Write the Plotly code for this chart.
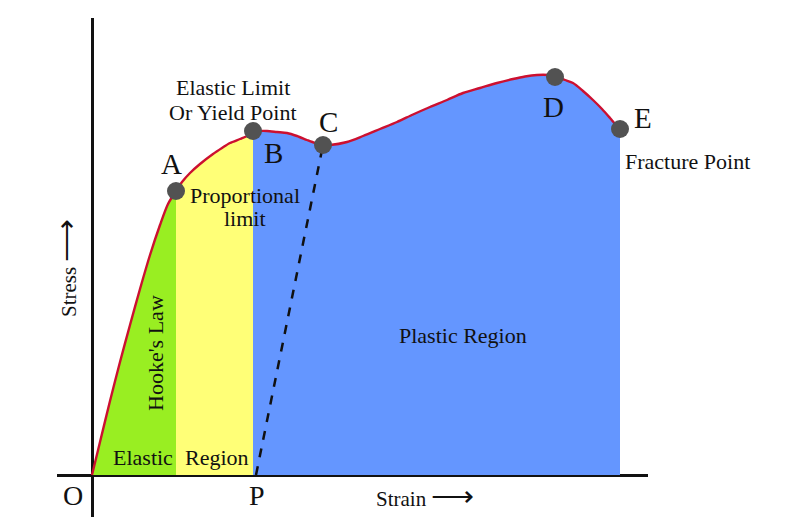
import plotly.graph_objects as go

# Stress-strain curve (strain along x, stress along y; arbitrary diagram units)
strain = [0, 8, 18, 28, 38, 48, 58, 68, 76, 84, 90, 98, 108, 121, 130, 138, 148, 155,
          161, 168, 175, 185, 195, 205, 215, 223, 230, 238, 255, 271, 288, 305, 321, 338, 355,
          371, 388, 405, 421, 433, 445, 456, 465, 473, 481, 491, 501, 510, 518, 524, 528]
stress = [0, 33, 74, 113, 150, 186, 220, 250, 271, 284, 293, 302, 311, 321, 327, 332, 336, 339,
          343, 344, 344, 343, 342, 339, 335, 332, 330, 330, 333, 339, 346, 353, 360.5, 368, 375,
          382, 387, 392, 396, 398.5, 400, 400, 398, 395, 392, 384, 375, 366, 357, 350, 346]

# Key points
point_names = ["A", "B", "C", "D", "E"]
point_strain = [84, 161, 231, 463, 528]
point_stress = [284, 344, 330, 398, 346]

# Unloading line P -> C
unload_strain = [164, 231]
unload_stress = [0, 330]

# Region boundaries (strain)
prop_limit = 84
yield_limit = 161
fracture = 528

SERIF = "Liberation Serif"

def subset(lo, hi):
    xs, ys = [], []
    for x, y in zip(strain, stress):
        if lo <= x <= hi:
            xs.append(x)
            ys.append(y)
    return xs, ys

fig = go.Figure()

for (lo, hi), col in [((0, prop_limit), "#99EE22"),
                      ((prop_limit, yield_limit), "#FFFF77"),
                      ((yield_limit, fracture), "#6496FF")]:
    xs, ys = subset(lo, hi)
    fig.add_trace(go.Scatter(x=xs, y=ys, mode="lines", fill="tozeroy", fillcolor=col,
                             line=dict(width=0, shape="spline", smoothing=0.8),
                             hoverinfo="skip", showlegend=False))

fig.add_trace(go.Scatter(x=strain, y=stress, mode="lines",
                         line=dict(color="#CC1030", width=2.4, shape="spline", smoothing=0.8),
                         showlegend=False))

fig.add_trace(go.Scatter(x=unload_strain, y=unload_stress, mode="lines",
                         line=dict(color="#111111", width=2.5, dash="dash"),
                         showlegend=False))

fig.add_trace(go.Scatter(x=point_strain, y=point_stress, mode="markers",
                         marker=dict(size=18, color="#525252"),
                         showlegend=False, cliponaxis=False))

def label(x, y, text, size=22, angle=0, xshift=0):
    fig.add_annotation(x=x, y=y, text=text, showarrow=False, textangle=angle, xshift=xshift,
                       font=dict(family=SERIF, size=size, color="#111111"),
                       xanchor="center", yanchor="middle")

ARROW = "<span style='font-size:30px'>\u27f6</span>"

# Point letters
label(79, 311, "A", 29)
label(181, 322, "B", 29)
label(236, 353, "C", 29)
label(461, 368, "D", 29)
label(551, 357, "E", 29)
label(-19, -20, "O", 28)
label(165, -20, "P", 28)

# Descriptive texts
label(141, 388, "Elastic Limit", 22)
label(141, 363, "Or Yield Point", 22)
label(153, 280, "Proportional", 22)
label(153, 257, "limit", 22)
label(528, 314, "Fracture Point", 22, xshift=67)
label(371, 140, "Plastic Region", 22)
label(51, 18, "Elastic", 22)
label(125, 18, "Region", 22)
label(63, 122, "Hooke's Law", 22, angle=-90)
label(333, -20, "Strain " + ARROW, 21)
label(-27, 207, "Stress " + ARROW, 21, angle=-90)

fig.update_layout(
    width=784, height=510,
    margin=dict(l=49, r=144, t=10, b=1),
    paper_bgcolor="white", plot_bgcolor="white",
    xaxis=dict(range=[-35, 556], showgrid=False, showticklabels=False, ticks="",
               zeroline=True, zerolinecolor="#111111", zerolinewidth=2.5, layer="above traces",
               fixedrange=True),
    yaxis=dict(range=[-42, 457], showgrid=False, showticklabels=False, ticks="",
               zeroline=True, zerolinecolor="#111111", zerolinewidth=2.5, layer="above traces",
               fixedrange=True),
)

fig.write_html("out.html")
